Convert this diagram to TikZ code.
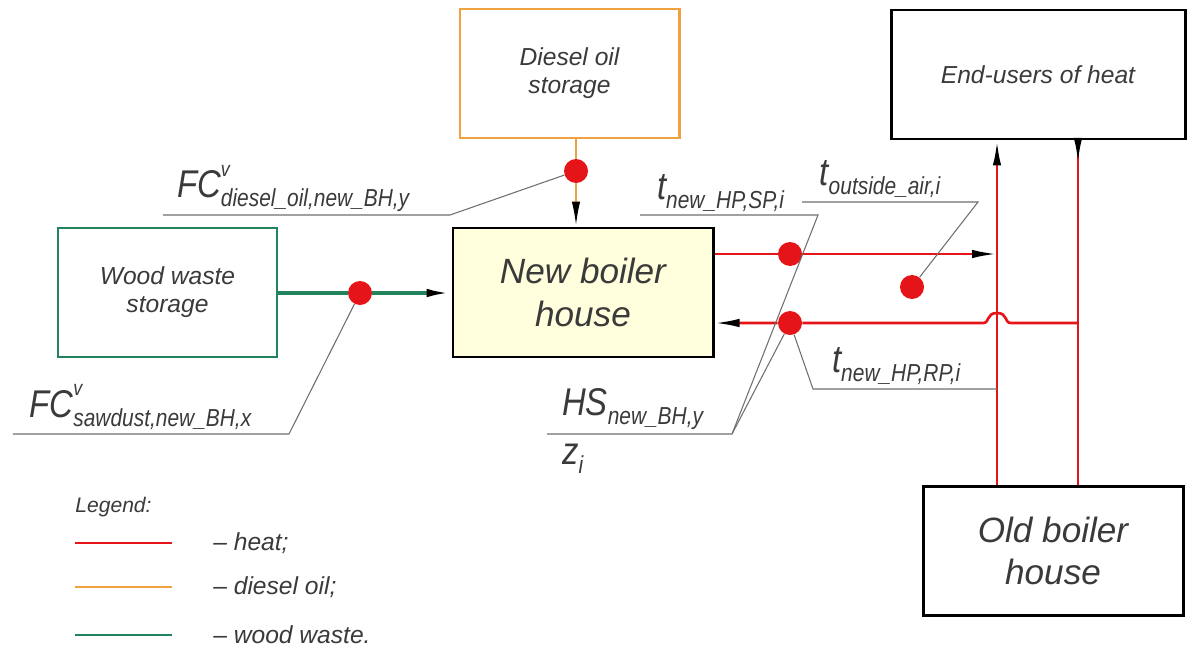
\documentclass[tikz,border=0pt]{standalone}
\usepackage{fontspec}
\setmainfont{Liberation Sans}
\newfontfamily\labelfont{Liberation Sans}[FakeStretch=0.85]
\usetikzlibrary{arrows.meta}

\definecolor{heatred}{RGB}{228,20,24}
\definecolor{oilorange}{RGB}{240,162,64}
\definecolor{woodgreen}{RGB}{34,132,92}
\definecolor{inkgray}{RGB}{58,58,58}
\definecolor{leadgray}{RGB}{110,110,110}
\definecolor{boilfill}{RGB}{255,255,221}

% symbol with stacked super- and subscript
\newcommand{\msym}[3]{{\fontsize{22}{24}\selectfont #1}\rlap{\raisebox{12pt}{\fontsize{12}{12}\selectfont #2}}\raisebox{-5.5pt}{\fontsize{14}{14}\selectfont #3}}

\tikzset{
  box/.style={draw, line width=1.7pt, minimum width=4.38cm, minimum height=2.58cm,
    align=center, text=inkgray, font=\fontsize{14}{16}\selectfont\itshape},
  bigbox/.style={box, minimum width=5.2cm, font=\fontsize{20}{24}\selectfont\itshape},
  heat/.style={draw=heatred, line width=1.5pt},
  arrowend/.style={-{Latex[length=5mm,width=1.7mm,black]}},
  dot/.style={circle, fill=heatred, inner sep=0pt, minimum size=4.8mm},
  leader/.style={draw=leadgray, line width=0.6pt},
  lbl/.style={text=inkgray, font=\labelfont\itshape, inner sep=1pt},
  legtext/.style={text=inkgray, font=\fontsize{14}{16}\selectfont\itshape, anchor=west, inner sep=0pt}
}

\begin{document}
\begin{tikzpicture}
  \useasboundingbox (0,0) rectangle (23.78,-12.96);
  % Boxes
  \node[box, draw=oilorange] (diesel) at (11.39,-1.47) {Diesel oil\\storage};
  \node[box, minimum width=5.88cm] (users) at (20.76,-1.49) {End-users of heat};
  \node[box, draw=woodgreen] (wood) at (3.35,-5.85) {Wood waste\\storage};
  \node[bigbox, fill=boilfill] (newbh) at (11.66,-5.85) {New boiler\\house};
  \node[bigbox] (oldbh) at (21.06,-11.02) {Old boiler\\house};
  % Measuring points
  \node[dot] (ddot) at (11.52,-3.42) {};
  \node[dot] (wdot) at (7.2,-5.86) {};
  \node[dot] (sdot) at (15.8,-5.08) {};
  \node[dot] (rdot) at (15.8,-6.46) {};
  \node[dot] (adot) at (18.24,-5.74) {};
  \coordinate (lv) at (19.94,0);
  \coordinate (rv) at (21.56,0);
  % Fuel lines
  \draw[oilorange, line width=1.3pt] (ddot |- diesel.south) -- (ddot);
  \draw[oilorange, line width=1.3pt, arrowend] (ddot) -- (ddot |- newbh.north);
  \draw[woodgreen, line width=2pt, arrowend] (wood.east |- wdot) -- (wdot) -- (newbh.west |- wdot);
  % Heat network
  \draw[heat, arrowend] (newbh.east |- sdot) -- (sdot) -- (lv |- sdot);
  \coordinate (br) at (lv |- rdot);
  \draw[heat, arrowend] (rv |- rdot) -- ([xshift=2.8mm]br)
    .. controls ([xshift=1.4mm]br) and ([xshift=2.2mm,yshift=2mm]br) .. ([yshift=2mm]br)
    .. controls ([xshift=-2.2mm,yshift=2mm]br) and ([xshift=-1.4mm]br) .. ([xshift=-2.8mm]br)
    -- (rdot) -- (newbh.east |- rdot);
  \draw[heat, arrowend] (lv |- oldbh.north) -- (lv |- users.south);
  \draw[heat] (rv |- users.south) -- (rv |- oldbh.north);
  \draw[heat, arrowend] (rv |- users.south) -- ++(0,-0.45);
  % Labels and leaders
  \node[lbl, anchor=south west] (fcdiesel) at (3.5,-4.28) {\msym{FC}{v}{diesel\_oil,new\_BH,y}};
  \coordinate (fcdA) at (3.26,-4.3);
  \coordinate (fcdB) at (9.0,-4.3);
  \draw[leader] (fcdA) -- (fcdB) -- (ddot);
  \node[lbl, anchor=south west] (fcwood) at (0.55,-8.64) {\msym{FC}{v}{sawdust,new\_BH,x}};
  \coordinate (fcwA) at (0.26,-8.68);
  \coordinate (fcwB) at (5.78,-8.68);
  \draw[leader] (fcwA) -- (fcwB) -- (wdot);
  \node[lbl, anchor=south west] (hs) at (11.2,-8.64) {\msym{HS}{}{new\_BH,y}};
  \coordinate (hsA) at (10.94,-8.68);
  \coordinate (hsB) at (14.64,-8.68);
  \draw[leader] (hsA) -- (hsB) -- (rdot);
  \node[lbl, anchor=north west] (zi) at (11.2,-8.82) {\msym{z}{}{i}};
  \node[lbl, anchor=south west] (tsp) at (13.1,-4.28) {\msym{t}{}{new\_HP,SP,i}};
  \coordinate (tspA) at (12.8,-4.3);
  \coordinate (tspB) at (16.36,-4.3);
  \draw[leader] (tspA) -- (tspB) -- (hsB);
  \node[lbl, anchor=south west] (tair) at (16.35,-4.0) {\msym{t}{}{outside\_air,i}};
  \coordinate (tairA) at (16.04,-4.04);
  \coordinate (tairB) at (19.56,-4.04);
  \draw[leader] (tairA) -- (tairB) -- (adot);
  \node[lbl, anchor=south west] (trp) at (16.6,-7.74) {\msym{t}{}{new\_HP,RP,i}};
  \coordinate (trpA) at (16.26,-7.78);
  \draw[leader] (rdot) -- (trpA) -- (lv |- trpA);
  % Legend
  \node[legtext, font=\fontsize{12}{14}\selectfont\itshape] (legend) at (1.5,-10.14) {Legend:};
  \node[legtext] (lgheat) at (4.26,-10.86) {– heat;};
  \node[legtext] (lgoil) at (4.26,-11.74) {– diesel oil;};
  \node[legtext] (lgwood) at (4.26,-12.7) {– wood waste.};
  \draw[heatred, line width=1.6pt] (legend.west |- lgheat) -- ++(1.94,0);
  \draw[oilorange, line width=1.6pt] (legend.west |- lgoil) -- ++(1.94,0);
  \draw[woodgreen, line width=1.6pt] (legend.west |- lgwood) -- ++(1.94,0);
\end{tikzpicture}
\end{document}
